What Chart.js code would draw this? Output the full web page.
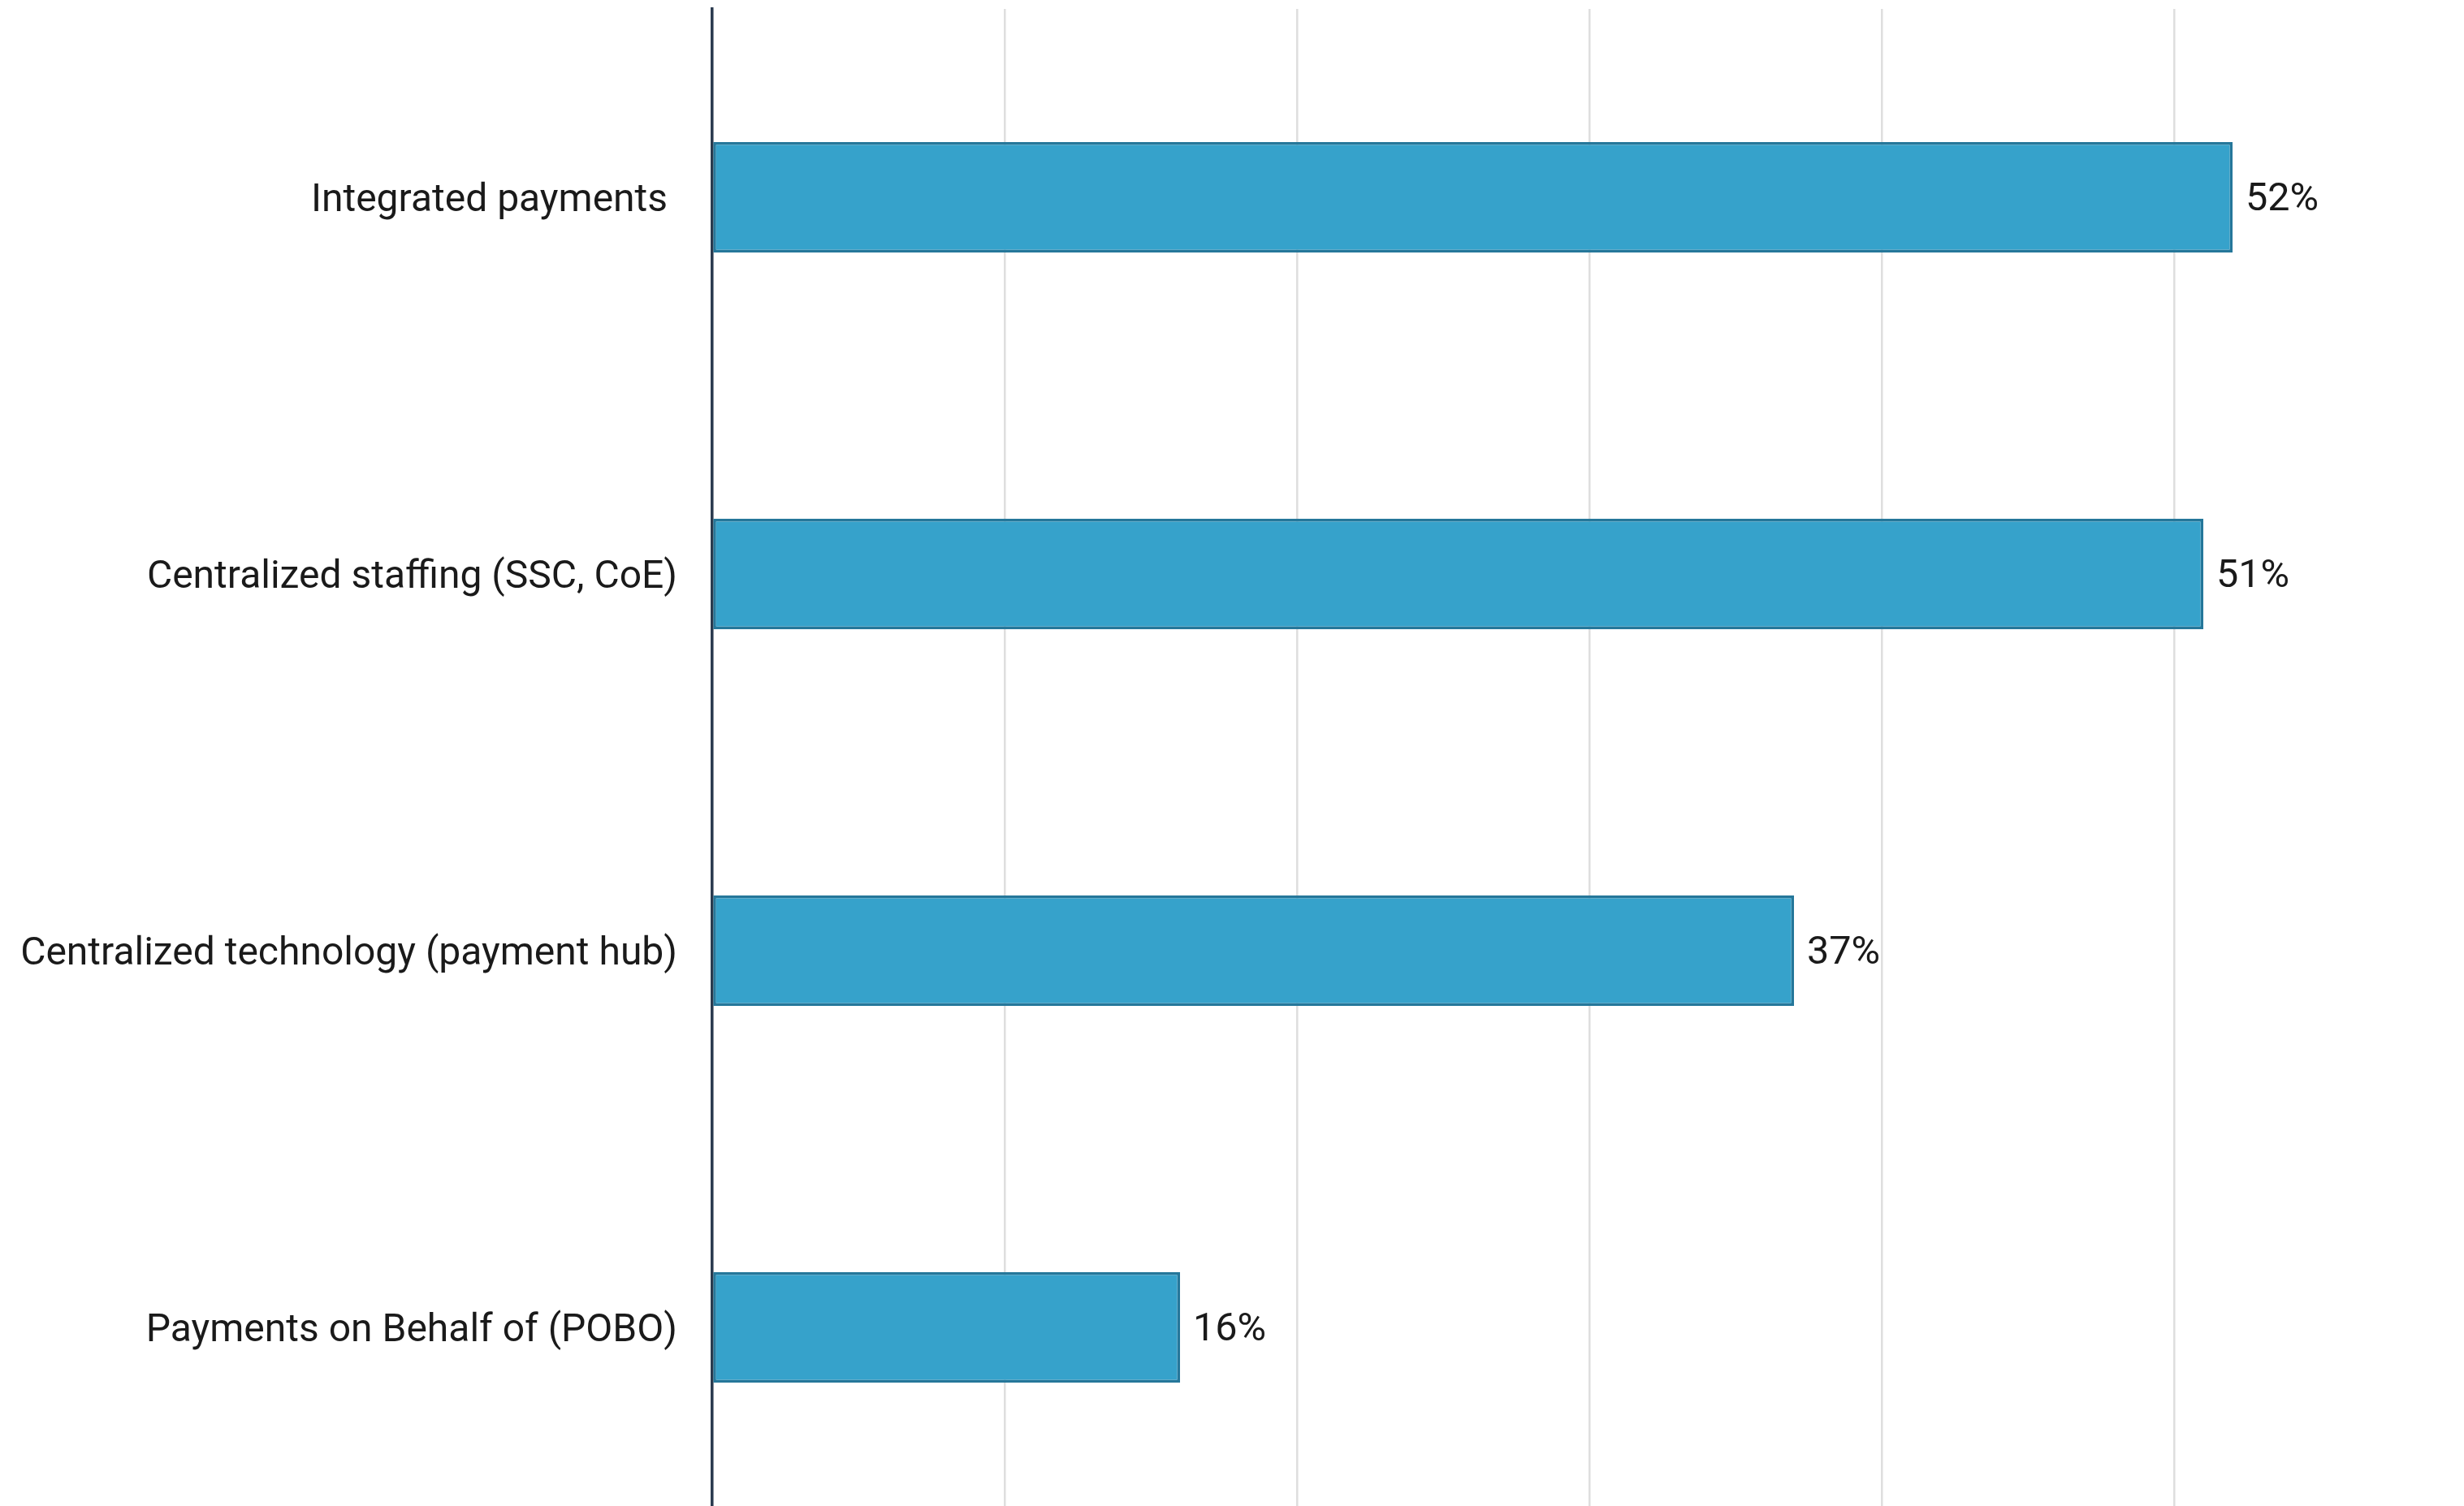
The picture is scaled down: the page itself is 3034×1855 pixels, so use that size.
<!DOCTYPE html>
<html>
<head>
<meta charset="utf-8">
<script src="https://cdn.jsdelivr.net/npm/chart.js@4/dist/chart.umd.min.js"></script>
<style>
  html, body { margin: 0; padding: 0; background: #ffffff; overflow: hidden; }
  #wrap { width: 3040px; height: 1867px; position: relative; }
</style>
</head>
<body>
<div id="wrap"><canvas id="c"></canvas></div>
<script>
const categories = [
  "Integrated payments ",
  "Centralized staffing (SSC, CoE)",
  "Centralized technology (payment hub)",
  "Payments on Behalf of (POBO)"
];
const values = [52, 51, 37, 16];
const valueLabels = ["52%", "51%", "37%", "16%"];
const axisMin = 0;
const axisMax = 60;
const axisStep = 10;

const valueLabelPlugin = {
  id: 'valueLabels',
  afterDatasetsDraw(chart) {
    const ctx = chart.ctx;
    const meta = chart.getDatasetMeta(0);
    ctx.save();
    ctx.font = '48.5px Roboto';
    ctx.fillStyle = '#1a1a1a';
    ctx.textAlign = 'left';
    ctx.textBaseline = 'middle';
    meta.data.forEach((bar, i) => {
      ctx.fillText(valueLabels[i], bar.x + 16, bar.y + 4);
    });
    ctx.restore();
  }
};

new Chart(document.getElementById('c'), {
  type: 'bar',
  data: {
    labels: categories,
    datasets: [{
      data: values,
      backgroundColor: '#36a2cb',
      borderColor: '#25779a',
      borderWidth: 3.5,
      borderSkipped: false,
      categoryPercentage: 1,
      barPercentage: 0.293
    }]
  },
  options: {
    indexAxis: 'y',
    responsive: true,
    maintainAspectRatio: false,
    animation: false,
    layout: { padding: { top: 11, right: 3, left: 0, bottom: 0 } },
    plugins: {
      legend: { display: false },
      tooltip: { enabled: false }
    },
    scales: {
      x: {
        min: axisMin,
        max: axisMax,
        afterFit(scale) { scale.height = 0; scale.paddingLeft = 0; scale.paddingRight = 0; },
        ticks: { display: false, stepSize: axisStep },
        grid: { color: '#dedede', lineWidth: 2.5, drawTicks: false },
        border: { display: false }
      },
      y: {
        afterFit(scale) { scale.width = 877; scale.paddingTop = 0; scale.paddingBottom = 0; },
        ticks: {
          color: '#1a1a1a',
          font: { family: 'Roboto', size: 48 },
          padding: 43,
          labelOffset: 5
        },
        grid: { display: false, drawTicks: false },
        border: { display: true, color: '#2b3b4f', width: 3.5 }
      }
    }
  },
  plugins: [valueLabelPlugin]
});
</script>
</body>
</html>
